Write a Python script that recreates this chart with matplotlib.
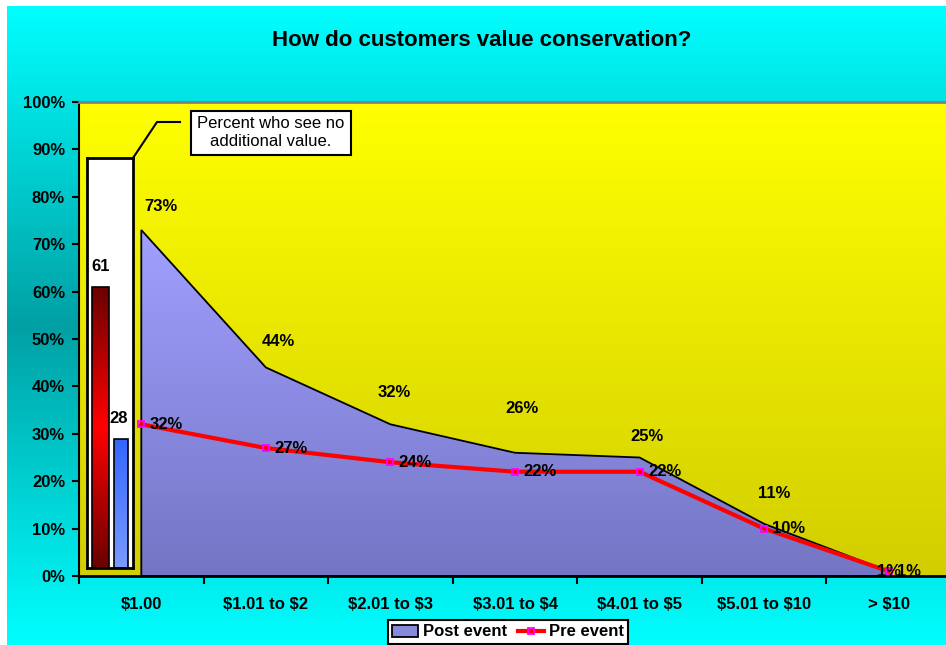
import numpy as np
import matplotlib
matplotlib.use('Agg')
import matplotlib.pyplot as plt
from matplotlib.colors import LinearSegmentedColormap
from matplotlib.lines import Line2D
from matplotlib.patches import Patch, Polygon

plt.rcParams['font.family'] = ['Liberation Sans', 'DejaVu Sans']
plt.rcParams['font.weight'] = 'bold'
plt.rcParams['text.parse_math'] = False

# data
categories = ['$1.00', '$1.01 to $2', '$2.01 to $3', '$3.01 to $4',
              '$4.01 to $5', '$5.01 to $10', '> $10']
post_event = [73, 44, 32, 26, 25, 11, 1]
pre_event = [32, 27, 24, 22, 22, 10, 1]
no_value = [61, 28]

# label offsets (points) for the post event labels, they were placed by hand
post_offsets = [(14, 17), (9, 19), (3, 23), (5, 32), (5, 15), (7, 22), (0, 0)]

W, H = 946, 645
fig = plt.figure(figsize=(W / 100, H / 100), dpi=100, facecolor='white')

# cyan background, darker in the middle
bg = fig.add_axes([7 / W, 0, (W - 7) / W, (H - 6) / H], zorder=-5)
bg_cmap = LinearSegmentedColormap.from_list('bg', ['#00ffff', '#00a0a4', '#00ffff'])
bg.imshow(np.linspace(0, 1, 256).reshape(-1, 1), cmap=bg_cmap, aspect='auto',
          extent=[0, 1, 0, 1])
bg.set_axis_off()

fig.text(482 / W, 1 - 40 / H, 'How do customers value conservation?',
         ha='center', va='center', fontsize=16, fontweight='bold')

ax = fig.add_axes([79 / W, (H - 576) / H, 872 / W, 474 / H])
x = np.arange(len(categories))

# yellow plot area
yel = LinearSegmentedColormap.from_list('yel', ['#d2ce00', '#ffff00'])
ax.imshow(np.linspace(1, 0, 256).reshape(-1, 1), cmap=yel, aspect='auto',
          extent=[-0.5, 6.5, 0, 100], zorder=0)

# post event area with gradient
verts = [(x[0], 0)] + list(zip(x, post_event)) + [(x[-1], 0)]
poly = Polygon(verts, closed=True, facecolor='none', edgecolor='black',
               lw=1.3, zorder=3)
ax.add_patch(poly)
area_cmap = LinearSegmentedColormap.from_list('area', ['#7575c5', '#a0a0ff'])
img = ax.imshow(np.linspace(1, 0, 256).reshape(-1, 1), cmap=area_cmap,
                aspect='auto', extent=[x[0], x[-1], 0, max(post_event)], zorder=2)
img.set_clip_path(poly)

# pre event line
ax.plot(x, pre_event, color='red', lw=3, marker='s', ms=5, mfc='none',
        mec='#ff00ff', mew=1.3, zorder=4, clip_on=False)

for i, v in enumerate(post_event):
    ax.annotate(f'{v}%', (x[i], v), xytext=post_offsets[i], textcoords='offset points',
                ha='center', va='center', fontsize=12, fontweight='bold', zorder=6)
for i, v in enumerate(pre_event):
    ax.annotate(f'{v}%', (x[i], v), xytext=(6, 0), textcoords='offset points',
                ha='left', va='center', fontsize=12, fontweight='bold', zorder=6)

ax.set_xlim(-0.5, 6.5)
ax.set_ylim(0, 100)
ax.set_yticks(np.arange(0, 101, 10))
ax.set_yticklabels([f'{v}%' for v in range(0, 101, 10)])
ax.set_xticks(x)
ax.set_xticklabels(categories)
ax.set_xticks(np.arange(-0.5, 7, 1), minor=True)
ax.tick_params(axis='y', direction='out', length=5, width=1.5, pad=5, labelsize=12)
ax.tick_params(axis='x', which='major', length=0, pad=15, labelsize=12)
ax.tick_params(axis='x', which='minor', direction='out', length=6, width=1.5)
for lab in ax.get_xticklabels() + ax.get_yticklabels():
    lab.set_fontweight('bold')
ax.spines['left'].set_linewidth(1.5)
ax.spines['bottom'].set_linewidth(2)
ax.spines['top'].set_color('#808080')
ax.spines['top'].set_linewidth(2)
ax.spines['right'].set_visible(False)

# small inset: percent who see no additional value
ins = fig.add_axes([87 / W, (H - 568) / H, 46 / W, 410 / H], zorder=5)
ins.set_facecolor('white')
for s in ins.spines.values():
    s.set_linewidth(2)
    s.set_color('black')
ins.set_xlim(-0.66, 1.58)
ins.set_ylim(0, 89)
ins.set_xticks([])
ins.set_yticks([])
bars = ins.bar([0, 1], no_value, width=[0.8, 0.65], color='none',
               edgecolor='black', lw=1.2, zorder=3)
red_cmap = LinearSegmentedColormap.from_list('red', ['#6a0000', '#ff0000', '#6a0000'])
blue_cmap = LinearSegmentedColormap.from_list('blue', ['#7a9cff', '#3366ff'])
for b, cm in zip(bars, [red_cmap, blue_cmap]):
    x0, y0, w, h = b.get_x(), b.get_y(), b.get_width(), b.get_height()
    g = ins.imshow(np.linspace(1, 0, 256).reshape(-1, 1), cmap=cm, aspect='auto',
                   extent=[x0, x0 + w, y0, y0 + h], zorder=2)
    g.set_clip_path(b)
ins.set_xlim(-0.66, 1.58)
ins.set_ylim(0, 89)
for i, v in enumerate(no_value):
    ins.annotate(str(v), (i, v), xytext=(-2 * i, 15), textcoords='offset points',
                 ha='center', va='center', fontsize=12, fontweight='bold')

# callout
fig.add_artist(Line2D([133 / W, 157 / W, 180 / W], [1 - 158 / H, 1 - 122 / H, 1 - 122 / H],
                      color='black', lw=1.5))
fig.text(271 / W, 1 - 133 / H, 'Percent who see no\nadditional value.', ha='center',
         va='center', fontsize=12, fontweight='normal', linespacing=1.25,
         bbox=dict(boxstyle='square,pad=0.35', fc='white', ec='black', lw=1.5))

handles = [Patch(facecolor='#8888dd', edgecolor='black', lw=1.3),
           Line2D([0], [0], color='red', lw=3, marker='s', ms=5, mfc='none',
                  mec='#ff00ff', mew=1.3)]
leg = fig.legend(handles, ['Post event', 'Pre event'], loc='center',
                 bbox_to_anchor=(508 / W, 1 - 632 / H), ncol=2, fancybox=False,
                 framealpha=1, edgecolor='black', fontsize=12, handlelength=1.6,
                 handletextpad=0.3, columnspacing=0.6, borderpad=0.25,
                 prop={'weight': 'bold', 'size': 12})
leg.get_frame().set_linewidth(1.5)

fig.savefig('out.png', dpi=100, facecolor='white')
